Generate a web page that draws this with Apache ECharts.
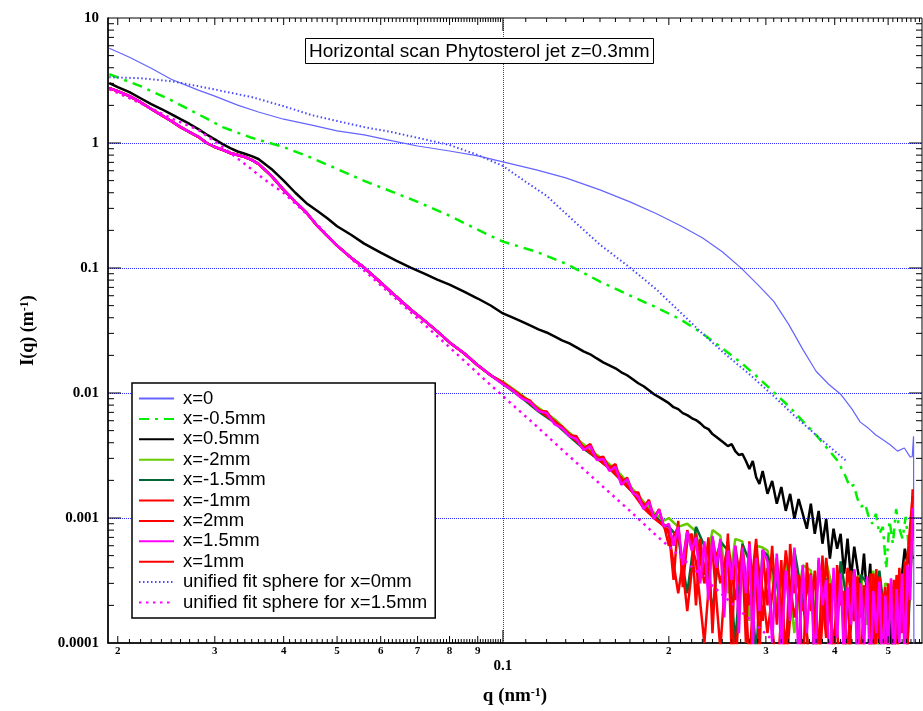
<!DOCTYPE html>
<html>
<head>
<meta charset="utf-8">
<script src="https://cdn.jsdelivr.net/npm/echarts@6/dist/echarts.min.js"></script>
<style>
  html, body { margin: 0; padding: 0; background: #fff; }
  #chart { width: 923px; height: 711px; }
</style>
</head>
<body>
<div id="chart"></div>
<script>
// axis range
const xMin = 0.0192
const xMax = 0.576
const yMin = 0.0001
const yMax = 10

// tick labels
const yTickLabels = ['0.0001', '0.001', '0.01', '0.1', '1', '10']
const xMidTicks = [0.02, 0.03, 0.04, 0.05, 0.06, 0.07, 0.08, 0.09, 0.2, 0.3, 0.4, 0.5]
const xMidLabels = ['2', '3', '4', '5', '6', '7', '8', '9', '2', '3', '4', '5']
const xDecadeTicks = [0.1]
const yDecadeTicks = [0.001, 0.01, 0.1, 1]

// x = 0 scan
const qBlue = [0.0193, 0.021, 0.023, 0.025, 0.028, 0.030, 0.033, 0.036, 0.040, 0.045, 0.050, 0.056, 0.063, 0.070, 0.080, 0.090, 0.100, 0.115, 0.130, 0.150, 0.170, 0.190, 0.210, 0.230, 0.250, 0.270, 0.290, 0.310, 0.330, 0.350, 0.370, 0.390, 0.410, 0.430, 0.445, 0.460, 0.475, 0.490, 0.505, 0.520, 0.535, 0.548, 0.553, 0.556, 0.557]
const iBlue = [5.72, 4.85, 3.96, 3.24, 2.65, 2.37, 2.01, 1.77, 1.55, 1.39, 1.25, 1.16, 1.04, 0.946, 0.863, 0.788, 0.706, 0.609, 0.526, 0.422, 0.338, 0.2715, 0.218, 0.1747, 0.135, 0.1007, 0.0737, 0.054, 0.0354, 0.02235, 0.01492, 0.01175, 0.00978, 0.00743, 0.00585, 0.00524, 0.00461, 0.0042, 0.00384, 0.00343, 0.00363, 0.00308, 0.0031, 0.0045, 0.00003]

// x = -0.5mm scan
const qGreen = [0.0193, 0.022, 0.025, 0.028, 0.031, 0.035, 0.040, 0.045, 0.050, 0.056, 0.063, 0.070, 0.080, 0.090, 0.100, 0.115, 0.130, 0.150, 0.170, 0.190, 0.210, 0.230, 0.250, 0.270, 0.290, 0.310, 0.330, 0.350, 0.370, 0.390, 0.405,
  0.412, 0.419, 0.426, 0.433, 0.440, 0.447, 0.454, 0.461, 0.468, 0.475, 0.482, 0.489, 0.496, 0.503, 0.510, 0.517, 0.524, 0.531, 0.538, 0.545, 0.551, 0.556]
const iGreen = [3.55, 2.85, 2.20, 1.70, 1.34, 1.10, 0.929, 0.759, 0.620, 0.498, 0.407, 0.338, 0.262, 0.2024, 0.1624, 0.135, 0.1084, 0.0779, 0.0602, 0.0483, 0.0388, 0.030, 0.0228, 0.0176, 0.01337, 0.01015, 0.00785, 0.00596, 0.00461, 0.0035, 0.00286,
  0.00247, 0.00213, 0.00177, 0.00184, 0.00142, 0.00123, 0.0013, 0.00102, 0.000899, 0.00108, 0.000748, 0.000851, 0.000393, 0.00095, 0.000623, 0.00118, 0.00082, 0.000683, 0.00102, 0.000589, 0.000748, 0.000473]

// low q grid shared by x=0.5mm and the overlapping scans
const qLow = [0.0193, 0.020, 0.021, 0.022, 0.023, 0.024, 0.025, 0.026, 0.027, 0.028, 0.029, 0.030, 0.031, 0.032, 0.033, 0.034, 0.035, 0.036, 0.038, 0.040, 0.042, 0.044, 0.046, 0.048, 0.050, 0.053, 0.056, 0.060, 0.064, 0.068, 0.072, 0.076, 0.080, 0.085, 0.090, 0.095]
const qHigh = [0.100, 0.104, 0.108, 0.112, 0.116, 0.120, 0.124, 0.128, 0.132, 0.136, 0.140, 0.144, 0.148, 0.152, 0.156, 0.160, 0.164, 0.168, 0.172, 0.176, 0.180, 0.184, 0.188, 0.192, 0.196,
  0.200, 0.204, 0.208, 0.212, 0.216, 0.220, 0.224, 0.228, 0.232, 0.236, 0.240, 0.244, 0.248, 0.252, 0.256, 0.260, 0.264, 0.268, 0.272, 0.276, 0.280, 0.284, 0.288, 0.292, 0.296,
  0.302, 0.308, 0.314, 0.320, 0.326, 0.332, 0.338, 0.344, 0.350, 0.356, 0.362, 0.368, 0.374, 0.380, 0.386, 0.392, 0.398, 0.404, 0.410, 0.416, 0.422, 0.428, 0.434, 0.440, 0.446, 0.452, 0.458, 0.464, 0.470, 0.476, 0.482, 0.488, 0.494, 0.500, 0.506, 0.512, 0.518, 0.524, 0.530, 0.536, 0.542, 0.548, 0.554]
const qHighCoarse = [0.100, 0.108, 0.116, 0.124, 0.132, 0.140, 0.148, 0.156, 0.164, 0.172, 0.180, 0.188, 0.196,
  0.200, 0.208, 0.216, 0.224, 0.232, 0.240, 0.248, 0.256, 0.264, 0.272, 0.280, 0.288, 0.296,
  0.302, 0.314, 0.326, 0.338, 0.350, 0.362, 0.374, 0.386, 0.398, 0.410, 0.422, 0.434, 0.446, 0.458, 0.470, 0.482, 0.494, 0.506, 0.518, 0.530, 0.542, 0.554]

// x = 0.5mm scan
const iBlackLow = [3.01, 2.80, 2.55, 2.28, 2.05, 1.87, 1.70, 1.55, 1.42, 1.29, 1.17, 1.07, 0.98, 0.91, 0.855, 0.82, 0.785, 0.745, 0.62, 0.50, 0.40, 0.33, 0.287, 0.250, 0.216, 0.1846, 0.1566, 0.1327, 0.1146, 0.1007, 0.0902, 0.0808, 0.0737, 0.0648, 0.057, 0.0501]
const iBlackHigh = [0.0433, 0.0402, 0.0374, 0.0347, 0.0323, 0.0305, 0.0284, 0.0264, 0.0249, 0.0232, 0.0215, 0.0204, 0.0189, 0.0176, 0.01666, 0.01577, 0.01465, 0.01387, 0.01288, 0.01197, 0.01133, 0.01053, 0.00978, 0.00926, 0.00876,
  0.00829, 0.0077, 0.00743, 0.0069, 0.00665, 0.0063, 0.00607, 0.00574, 0.00534, 0.00514, 0.00469, 0.00444, 0.0042, 0.00398, 0.00376, 0.0039, 0.00343, 0.00319, 0.00325, 0.00286, 0.00247, 0.00286, 0.00213, 0.00187, 0.00238,
  0.00156, 0.00198, 0.0013, 0.00177, 0.00114, 0.00156, 0.000985, 0.00142, 0.00108, 0.00082, 0.0013, 0.000748, 0.00114, 0.000623, 0.000985, 0.000473, 0.00082, 0.000568, 0.000748, 0.000359, 0.000683, 0.000327, 0.000589, 0.000393, 0.000273, 0.000518, 0.000227, 0.000431, 0.000109, 0.000327, 0.0000826, 0.000227, 0.000131, 0.000273, 0.0000754, 0.000207, 0.000143, 0.000299, 0.000359, 0.000568, 0.000431, 0.000589, 0.000473]

// the six outer scans coincide below q = 0.1
const iClusterLow = [2.75, 2.60, 2.37, 2.12, 1.87, 1.67, 1.50, 1.34, 1.22, 1.12, 1.00, 0.929, 0.88, 0.832, 0.802, 0.773, 0.732, 0.68, 0.545, 0.422, 0.338, 0.277, 0.218, 0.181, 0.151, 0.121, 0.1007, 0.0765, 0.0591, 0.0466, 0.0381, 0.0311, 0.0254, 0.0208, 0.01666, 0.01387]

// x = 1.5mm (qHigh)
const iPinkHigh = [0.01175, 0.01053, 0.00909, 0.00844, 0.00716, 0.0069, 0.00564, 0.00524, 0.00452, 0.00428, 0.0035, 0.00376, 0.00291, 0.00297, 0.00238, 0.00256, 0.00184, 0.00205, 0.00159, 0.00148, 0.00118, 0.00135, 0.000985, 0.00116, 0.000851,
  9.0e-4, 6.0e-4, 8.5e-4, 4.2e-4, 7.8e-4, 5.5e-4, 7.0e-4, 3.0e-4, 6.5e-4, 2.2e-4, 7.2e-4, 4.0e-4, 6.8e-4, 1.6e-4, 5.5e-4, 3.2e-4, 6.0e-4, 1.2e-4, 5.8e-4, 2.5e-4, 6.2e-4, 0.9e-4, 4.8e-4, 1.8e-4, 5.6e-4,
  4.5e-4, 1.0e-4, 5.2e-4, 0.8e-4, 3.8e-4, 1.5e-4, 5.8e-4, 0.7e-4, 4.2e-4, 1.2e-4, 3.5e-4, 0.6e-4, 4.8e-4, 2.0e-4, 3.2e-4, 0.5e-4, 4.0e-4, 1.1e-4, 3.6e-4, 0.7e-4, 2.8e-4, 1.4e-4, 3.9e-4, 0.6e-4, 3.0e-4, 0.9e-4, 3.4e-4, 0.5e-4, 2.6e-4, 1.2e-4, 3.1e-4, 0.6e-4, 2.4e-4, 0.8e-4, 3.3e-4, 0.5e-4, 2.7e-4, 1.0e-4, 3.6e-4, 0.7e-4, 4.2e-4, 2.2e-4, 12e-4]

// x = 1mm (qHigh)
const iRed1High = [0.0120, 0.0107, 0.0093, 0.0087, 0.0072, 0.0071, 0.0058, 0.0054, 0.0046, 0.0045, 0.0036, 0.0039, 0.0030, 0.0031, 0.0025, 0.0027, 0.0019, 0.0021, 0.0016, 0.0016, 0.0012, 0.0014, 0.00100, 0.00118, 0.00084,
  8.0e-4, 3.2e-4, 9.5e-4, 2.8e-4, 6.5e-4, 7.5e-4, 2.0e-4, 6.8e-4, 3.5e-4, 7.0e-4, 1.2e-4, 5.0e-4, 6.2e-4, 2.4e-4, 7.5e-4, 0.8e-4, 6.0e-4, 3.8e-4, 5.0e-4, 1.0e-4, 6.5e-4, 2.6e-4, 4.0e-4, 0.7e-4, 5.5e-4,
  2.0e-4, 6.0e-4, 1.4e-4, 4.6e-4, 0.6e-4, 6.2e-4, 2.5e-4, 3.5e-4, 0.5e-4, 4.4e-4, 1.8e-4, 3.8e-4, 0.7e-4, 5.0e-4, 1.3e-4, 3.0e-4, 0.4e-4, 4.2e-4, 2.0e-4, 2.6e-4, 0.6e-4, 3.8e-4, 1.5e-4, 3.4e-4, 0.5e-4, 2.9e-4, 1.8e-4, 3.6e-4, 0.7e-4, 3.9e-4, 1.2e-4, 2.5e-4, 0.5e-4, 3.0e-4, 1.6e-4, 3.2e-4, 0.6e-4, 4.0e-4, 1.3e-4, 4.5e-4, 0.9e-4, 5.5e-4, 17e-4]

// x = -2mm, -1.5mm, -1mm, 2mm (qHighCoarse)
const iLimeHigh = [0.0123, 0.0097, 0.0076, 0.0062, 0.0048, 0.0039, 0.0032, 0.0027, 0.0022, 0.0017, 0.00135, 0.0011, 0.00095,
  10.0e-4, 8.5e-4, 9.0e-4, 7.8e-4, 3.5e-4, 8.0e-4, 7.2e-4, 2.5e-4, 6.8e-4, 6.5e-4, 1.5e-4, 6.0e-4, 5.8e-4,
  5.5e-4, 2.0e-4, 4.8e-4, 1.2e-4, 4.2e-4, 3.8e-4, 0.8e-4, 4.5e-4, 2.5e-4, 3.6e-4, 0.7e-4, 3.2e-4, 3.5e-4, 1.4e-4, 3.8e-4, 0.6e-4, 3.0e-4, 2.8e-4, 1.0e-4, 3.2e-4, 1.8e-4, 6.5e-4]
const iDarkGreenHigh = [0.0118, 0.0092, 0.0071, 0.0058, 0.0045, 0.0036, 0.0030, 0.0025, 0.0020, 0.0016, 0.00125, 0.00105, 0.00088,
  8.5e-4, 7.0e-4, 2.5e-4, 8.5e-4, 6.0e-4, 1.8e-4, 6.5e-4, 5.5e-4, 1.0e-4, 6.2e-4, 4.5e-4, 0.8e-4, 5.5e-4,
  5.0e-4, 3.0e-4, 1.0e-4, 5.5e-4, 2.2e-4, 0.6e-4, 4.0e-4, 3.2e-4, 0.9e-4, 4.5e-4, 2.0e-4, 0.5e-4, 3.5e-4, 3.0e-4, 0.8e-4, 3.8e-4, 1.5e-4, 0.5e-4, 3.0e-4, 2.5e-4, 0.9e-4, 9.0e-4]
const iRedM1High = [0.0119, 0.0094, 0.0073, 0.0059, 0.0046, 0.0037, 0.0030, 0.0025, 0.0020, 0.0016, 0.0012, 0.0010, 0.00086,
  7.5e-4, 2.5e-4, 8.0e-4, 4.5e-4, 1.0e-4, 7.0e-4, 3.0e-4, 6.0e-4, 0.6e-4, 5.5e-4, 2.0e-4, 6.8e-4, 1.5e-4,
  4.0e-4, 0.5e-4, 5.5e-4, 1.6e-4, 3.8e-4, 0.4e-4, 4.6e-4, 1.1e-4, 3.4e-4, 0.5e-4, 4.0e-4, 1.5e-4, 3.0e-4, 0.4e-4, 3.6e-4, 1.0e-4, 2.8e-4, 0.5e-4, 3.5e-4, 1.2e-4, 4.8e-4, 15e-4]
const iRed2High = [0.0121, 0.0095, 0.0074, 0.0060, 0.0047, 0.0037, 0.0031, 0.0026, 0.0021, 0.0016, 0.0013, 0.0010, 0.00087,
  6.0e-4, 8.5e-4, 1.8e-4, 7.5e-4, 3.0e-4, 5.5e-4, 0.9e-4, 6.5e-4, 2.2e-4, 6.0e-4, 0.7e-4, 5.2e-4, 2.6e-4,
  1.2e-4, 4.8e-4, 0.6e-4, 4.2e-4, 1.8e-4, 3.6e-4, 0.5e-4, 4.8e-4, 1.0e-4, 3.0e-4, 0.5e-4, 3.8e-4, 1.6e-4, 2.6e-4, 0.4e-4, 3.4e-4, 1.4e-4, 2.8e-4, 0.6e-4, 3.0e-4, 1.0e-4, 12e-4]

// unified fits
const qFit0 = [0.0193, 0.022, 0.025, 0.028, 0.031, 0.035, 0.040, 0.045, 0.050, 0.056, 0.063, 0.070, 0.080, 0.090, 0.100, 0.110, 0.120, 0.135, 0.150, 0.170, 0.190, 0.210, 0.230, 0.250, 0.280, 0.310, 0.340, 0.370, 0.400, 0.420]
const iFit0 = [3.36, 3.30, 3.12, 2.85, 2.60, 2.33, 1.97, 1.67, 1.50, 1.34, 1.22, 1.10, 0.964, 0.802, 0.655, 0.489, 0.378, 0.234, 0.1537, 0.1007, 0.0673, 0.0441, 0.030, 0.0215, 0.01412, 0.00943, 0.00641, 0.00461, 0.00343, 0.00286]
const qFit15 = [0.0193, 0.022, 0.025, 0.028, 0.031, 0.034, 0.037, 0.040, 0.045, 0.050, 0.056, 0.063, 0.070, 0.080, 0.090, 0.100, 0.115, 0.130, 0.150, 0.170, 0.190, 0.210, 0.230, 0.250, 0.270, 0.285, 0.310]
const iFit15 = [2.70, 2.08, 1.58, 1.27, 0.929, 0.680, 0.507, 0.3993, 0.2476, 0.1509, 0.0954, 0.0602, 0.0395, 0.0232, 0.01438, 0.00943, 0.00544, 0.00331, 0.00187, 0.00114, 0.000721, 0.00049, 0.00034, 0.000244, 0.000179, 0.000146, 0.000103]

const legendNames = ['x=0', 'x=-0.5mm', 'x=0.5mm', 'x=-2mm', 'x=-1.5mm', 'x=-1mm', 'x=2mm', 'x=1.5mm', 'x=1mm',
  'unified fit sphere for x=0mm', 'unified fit sphere for x=1.5mm']

const serif = '"Liberation Serif", "Times New Roman", serif'
const sans = '"Liberation Sans", Arial, sans-serif'

function zip(qs, vals) {
  return qs.map((q, i) => [q, vals[i]])
}

function line(name, data, color, width, type) {
  return {
    name: name,
    type: 'line',
    data: data,
    symbol: 'none',
    showSymbol: false,
    color: color,
    lineStyle: { color: color, width: width, type: type || 'solid' },
    animation: false
  }
}

// tick marks: [q, 1, length, labelIndex]
function xTickData() {
  const items = []
  xMidTicks.forEach((q, i) => items.push([q, 1, 7, i]))
  xDecadeTicks.forEach(q => items.push([q, 1, 13, -1]))
  ;[0.01, 0.1].forEach(base => {
    for (let k = 11; k < 100; k++) {
      if (k % 10 === 0) continue
      const q = base * k / 10
      if (q > xMin && q < xMax) items.push([q, 1, 4, -1])
    }
  })
  return items
}

function yTickData() {
  const items = []
  yDecadeTicks.forEach(v => items.push([0.1, v, 13]))
  ;[1e-4, 1e-3, 1e-2, 1e-1, 1].forEach(base => {
    for (let k = 2; k < 10; k++) items.push([0.1, base * k, 6])
  })
  return items
}

const tickStyle = { stroke: '#000', lineWidth: 1 }
const gridLine = { show: true, showMinLine: false, showMaxLine: false, lineStyle: { color: '#3030ff', type: [1, 1], width: 1 } }

const chart = echarts.init(document.getElementById('chart'))

const option = {
  animation: false,
  backgroundColor: '#fff',
  title: {
    text: 'Horizontal scan Phytosterol jet z=0.3mm',
    left: 305,
    top: 38,
    padding: [4, 4, 3, 4],
    borderColor: '#000',
    borderWidth: 1,
    backgroundColor: '#fff',
    textStyle: { fontFamily: sans, fontSize: 19, fontWeight: 'normal', color: '#000' }
  },
  legend: {
    orient: 'vertical',
    left: 132,
    top: 383,
    itemWidth: 35,
    itemHeight: 14,
    itemGap: 1.4,
    padding: [6, 8, 6, 6],
    borderColor: '#000',
    borderWidth: 1.5,
    backgroundColor: '#fff',
    itemStyle: { opacity: 0 },
    textStyle: { fontFamily: sans, fontSize: 18.5, color: '#000', padding: [0, 0, 0, 4] },
    data: legendNames
  },
  grid: {
    left: 108, right: 1, top: 18, bottom: 66,
    show: true, borderColor: '#000', borderWidth: 1
  },
  xAxis: {
    type: 'log',
    min: xMin,
    max: xMax,
    name: 'q (nm{sup|-1})',
    nameLocation: 'middle',
    nameGap: 44,
    nameTextStyle: {
      fontFamily: serif, fontWeight: 'bold', fontSize: 19, color: '#000',
      rich: { sup: { fontFamily: serif, fontWeight: 'bold', fontSize: 12, verticalAlign: 'top', lineHeight: 12 } }
    },
    axisLine: { lineStyle: { color: '#000', width: 1.5 } },
    axisTick: { show: false },
    axisLabel: {
      showMinLabel: false, showMaxLabel: false, margin: 16,
      fontFamily: serif, fontWeight: 'bold', fontSize: 15, color: '#000',
      formatter: v => (Math.abs(v - 0.1) < 1e-9 ? '0.1' : '')
    },
    splitLine: gridLine
  },
  yAxis: {
    type: 'log',
    min: yMin,
    max: yMax,
    name: 'I(q) (m{sup|-1})',
    nameLocation: 'middle',
    nameGap: 71,
    nameTextStyle: {
      fontFamily: serif, fontWeight: 'bold', fontSize: 18, color: '#000',
      rich: { sup: { fontFamily: serif, fontWeight: 'bold', fontSize: 12, verticalAlign: 'top', lineHeight: 12 } }
    },
    axisLine: { lineStyle: { color: '#000', width: 1.5 } },
    axisTick: { show: false },
    axisLabel: {
      margin: 9,
      fontFamily: serif, fontWeight: 'bold', fontSize: 15, color: '#000',
      formatter: v => yTickLabels[Math.round(Math.log10(v)) + 4]
    },
    splitLine: gridLine
  },
  series: [
    line('x=0', zip(qBlue, iBlue), '#6464ff', 1.2),
    line('x=-0.5mm', zip(qGreen, iGreen), '#00f000', 2.5, [10, 6, 3, 6]),
    line('x=0.5mm', zip(qLow.concat(qHigh), iBlackLow.concat(iBlackHigh)), '#000000', 2.5),
    line('x=-2mm', zip(qLow.concat(qHighCoarse), iClusterLow.concat(iLimeHigh)), '#66cc00', 2.5),
    line('x=-1.5mm', zip(qLow.concat(qHighCoarse), iClusterLow.concat(iDarkGreenHigh)), '#006633', 2.5),
    line('x=-1mm', zip(qLow.concat(qHighCoarse), iClusterLow.concat(iRedM1High)), '#ff0000', 2.5),
    line('x=2mm', zip(qLow.concat(qHighCoarse), iClusterLow.concat(iRed2High)), '#ff0000', 2.5),
    line('x=1mm', zip(qLow.concat(qHigh), iClusterLow.concat(iRed1High)), '#ff0000', 2.5),
    line('x=1.5mm', zip(qLow.concat(qHigh), iClusterLow.concat(iPinkHigh)), '#ff00ff', 2.5),
    line('unified fit sphere for x=0mm', zip(qFit0, iFit0), '#4a4aff', 2, [1.5, 2.5]),
    line('unified fit sphere for x=1.5mm', zip(qFit15, iFit15), '#ff00ff', 2.5, [2.5, 4.5]),
    {
      type: 'custom',
      silent: true,
      z: 10,
      clip: false,
      animation: false,
      data: xTickData(),
      encode: { x: 0, y: 1 },
      renderItem(params, api) {
        const cs = params.coordSys
        const x = api.coord([api.value(0), 1])[0]
        const len = api.value(2)
        const li = api.value(3)
        const yb = cs.y + cs.height
        const kids = [
          { type: 'line', shape: { x1: x, y1: yb, x2: x, y2: yb - len }, style: tickStyle },
          { type: 'line', shape: { x1: x, y1: cs.y, x2: x, y2: cs.y + len }, style: tickStyle }
        ]
        if (li >= 0) {
          kids.push({
            type: 'text', x: x, y: yb + 3,
            style: { text: xMidLabels[li], fill: '#000', font: 'bold 11px ' + serif, align: 'center', verticalAlign: 'top' }
          })
        }
        return { type: 'group', children: kids }
      }
    },
    {
      type: 'custom',
      silent: true,
      z: 10,
      clip: false,
      animation: false,
      data: yTickData(),
      encode: { x: 0, y: 1 },
      renderItem(params, api) {
        const cs = params.coordSys
        const y = api.coord([0.1, api.value(1)])[1]
        const len = api.value(2)
        const xr = cs.x + cs.width
        return {
          type: 'group',
          children: [
            { type: 'line', shape: { x1: cs.x, y1: y, x2: cs.x + len, y2: y }, style: tickStyle },
            { type: 'line', shape: { x1: xr, y1: y, x2: xr - len, y2: y }, style: tickStyle }
          ]
        }
      }
    }
  ]
}

chart.setOption(option)
</script>
</body>
</html>
